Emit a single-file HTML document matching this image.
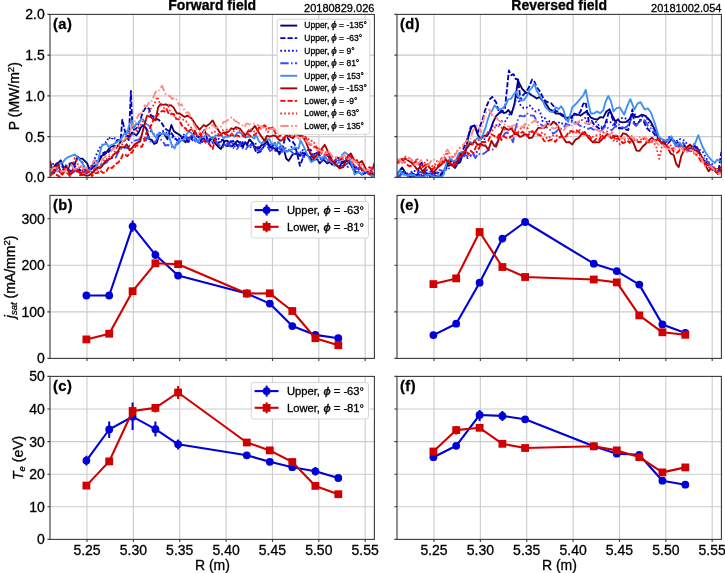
<!DOCTYPE html>
<html><head><meta charset="utf-8"><style>
html,body{margin:0;padding:0;background:#fff;}
svg{display:block;font-family:"Liberation Sans", sans-serif;will-change:transform;filter:blur(0.3px);}
text{fill:#000;stroke:#000;stroke-width:0.3px;}
</style></head><body>
<svg width="725" height="573" viewBox="0 0 725 573">
<rect width="725" height="573" fill="#fff"/>
<path d="M87.00 14.40V177.40M133.36 14.40V177.40M179.73 14.40V177.40M226.10 14.40V177.40M272.46 14.40V177.40M318.82 14.40V177.40M365.19 14.40V177.40M50.00 136.65H374.40M50.00 95.90H374.40M50.00 55.15H374.40" stroke="#cccccc" stroke-width="1.1" fill="none"/>
<path d="M434.00 14.40V177.40M480.36 14.40V177.40M526.73 14.40V177.40M573.10 14.40V177.40M619.46 14.40V177.40M665.83 14.40V177.40M712.19 14.40V177.40M397.00 136.65H721.40M397.00 95.90H721.40M397.00 55.15H721.40" stroke="#cccccc" stroke-width="1.1" fill="none"/>
<path d="M87.00 195.40V358.40M133.36 195.40V358.40M179.73 195.40V358.40M226.10 195.40V358.40M272.46 195.40V358.40M318.82 195.40V358.40M365.19 195.40V358.40M50.00 311.83H374.40M50.00 265.26H374.40M50.00 218.69H374.40" stroke="#cccccc" stroke-width="1.1" fill="none"/>
<path d="M434.00 195.40V358.40M480.36 195.40V358.40M526.73 195.40V358.40M573.10 195.40V358.40M619.46 195.40V358.40M665.83 195.40V358.40M712.19 195.40V358.40M397.00 311.83H721.40M397.00 265.26H721.40M397.00 218.69H721.40" stroke="#cccccc" stroke-width="1.1" fill="none"/>
<path d="M87.00 376.40V539.40M133.36 376.40V539.40M179.73 376.40V539.40M226.10 376.40V539.40M272.46 376.40V539.40M318.82 376.40V539.40M365.19 376.40V539.40M50.00 506.80H374.40M50.00 474.20H374.40M50.00 441.60H374.40M50.00 409.00H374.40" stroke="#cccccc" stroke-width="1.1" fill="none"/>
<path d="M434.00 376.40V539.40M480.36 376.40V539.40M526.73 376.40V539.40M573.10 376.40V539.40M619.46 376.40V539.40M665.83 376.40V539.40M712.19 376.40V539.40M397.00 506.80H721.40M397.00 474.20H721.40M397.00 441.60H721.40M397.00 409.00H721.40" stroke="#cccccc" stroke-width="1.1" fill="none"/>
<polyline points="86.4,295.5 109.2,295.5 132.6,226.3 155.4,254.8 178.1,275.6 246.8,293.5 269.8,303.6 292.3,326.1 315.4,334.9 338.3,338.2" fill="none" stroke="#0000d8" stroke-width="2.1" stroke-linejoin="round"/>
<path d="M132.6 220.6V231.8M155.4 250.5V259.0" stroke="#0000d8" stroke-width="2"/>
<circle cx="86.4" cy="295.5" r="3.9" fill="#0000d8"/>
<circle cx="109.2" cy="295.5" r="3.9" fill="#0000d8"/>
<circle cx="132.6" cy="226.3" r="3.9" fill="#0000d8"/>
<circle cx="155.4" cy="254.8" r="3.9" fill="#0000d8"/>
<circle cx="178.1" cy="275.6" r="3.9" fill="#0000d8"/>
<circle cx="246.8" cy="293.5" r="3.9" fill="#0000d8"/>
<circle cx="269.8" cy="303.6" r="3.9" fill="#0000d8"/>
<circle cx="292.3" cy="326.1" r="3.9" fill="#0000d8"/>
<circle cx="315.4" cy="334.9" r="3.9" fill="#0000d8"/>
<circle cx="338.3" cy="338.2" r="3.9" fill="#0000d8"/>
<polyline points="86.4,339.4 109.2,333.7 132.6,291.2 155.4,263.3 178.1,264.2 246.8,293.5 269.8,293.3 292.3,311.0 315.4,338.2 338.3,345.2" fill="none" stroke="#d00000" stroke-width="2.1" stroke-linejoin="round"/>
<rect x="82.5" y="335.5" width="7.8" height="7.8" fill="#d00000"/>
<rect x="105.3" y="329.8" width="7.8" height="7.8" fill="#d00000"/>
<rect x="128.7" y="287.3" width="7.8" height="7.8" fill="#d00000"/>
<rect x="151.5" y="259.4" width="7.8" height="7.8" fill="#d00000"/>
<rect x="174.2" y="260.3" width="7.8" height="7.8" fill="#d00000"/>
<rect x="242.9" y="289.6" width="7.8" height="7.8" fill="#d00000"/>
<rect x="265.9" y="289.4" width="7.8" height="7.8" fill="#d00000"/>
<rect x="288.4" y="307.1" width="7.8" height="7.8" fill="#d00000"/>
<rect x="311.5" y="334.3" width="7.8" height="7.8" fill="#d00000"/>
<rect x="334.4" y="341.3" width="7.8" height="7.8" fill="#d00000"/>
<polyline points="86.4,460.6 109.2,429.5 132.6,416.7 155.4,429.2 178.1,444.3 246.8,455.3 269.8,461.8 292.3,467.2 315.4,471.3 338.3,478.0" fill="none" stroke="#0000d8" stroke-width="2.1" stroke-linejoin="round"/>
<path d="M86.4 455.8V465.5M109.2 421.6V438.1M132.6 402.5V430.1M155.4 421.6V436.4M178.1 439.6V449.6M315.4 467.0V475.5" stroke="#0000d8" stroke-width="2"/>
<circle cx="86.4" cy="460.6" r="3.9" fill="#0000d8"/>
<circle cx="109.2" cy="429.5" r="3.9" fill="#0000d8"/>
<circle cx="132.6" cy="416.7" r="3.9" fill="#0000d8"/>
<circle cx="155.4" cy="429.2" r="3.9" fill="#0000d8"/>
<circle cx="178.1" cy="444.3" r="3.9" fill="#0000d8"/>
<circle cx="246.8" cy="455.3" r="3.9" fill="#0000d8"/>
<circle cx="269.8" cy="461.8" r="3.9" fill="#0000d8"/>
<circle cx="292.3" cy="467.2" r="3.9" fill="#0000d8"/>
<circle cx="315.4" cy="471.3" r="3.9" fill="#0000d8"/>
<circle cx="338.3" cy="478.0" r="3.9" fill="#0000d8"/>
<polyline points="86.4,485.6 109.2,461.4 132.6,411.0 155.4,407.9 178.1,392.5 246.8,442.5 269.8,450.4 292.3,462.0 315.4,485.9 338.3,494.2" fill="none" stroke="#d00000" stroke-width="2.1" stroke-linejoin="round"/>
<path d="M132.6 406.0V417.0M155.4 404.0V412.4M178.1 386.0V399.0" stroke="#d00000" stroke-width="2"/>
<rect x="82.5" y="481.7" width="7.8" height="7.8" fill="#d00000"/>
<rect x="105.3" y="457.5" width="7.8" height="7.8" fill="#d00000"/>
<rect x="128.7" y="407.1" width="7.8" height="7.8" fill="#d00000"/>
<rect x="151.5" y="404.0" width="7.8" height="7.8" fill="#d00000"/>
<rect x="174.2" y="388.6" width="7.8" height="7.8" fill="#d00000"/>
<rect x="242.9" y="438.6" width="7.8" height="7.8" fill="#d00000"/>
<rect x="265.9" y="446.5" width="7.8" height="7.8" fill="#d00000"/>
<rect x="288.4" y="458.1" width="7.8" height="7.8" fill="#d00000"/>
<rect x="311.5" y="482.0" width="7.8" height="7.8" fill="#d00000"/>
<rect x="334.4" y="490.3" width="7.8" height="7.8" fill="#d00000"/>
<polyline points="433.4,335.1 456.2,323.7 479.6,282.7 502.4,238.6 525.1,222.0 593.8,263.7 616.8,271.1 639.3,284.6 662.4,324.4 685.3,333.0" fill="none" stroke="#0000d8" stroke-width="2.1" stroke-linejoin="round"/>
<circle cx="433.4" cy="335.1" r="3.9" fill="#0000d8"/>
<circle cx="456.2" cy="323.7" r="3.9" fill="#0000d8"/>
<circle cx="479.6" cy="282.7" r="3.9" fill="#0000d8"/>
<circle cx="502.4" cy="238.6" r="3.9" fill="#0000d8"/>
<circle cx="525.1" cy="222.0" r="3.9" fill="#0000d8"/>
<circle cx="593.8" cy="263.7" r="3.9" fill="#0000d8"/>
<circle cx="616.8" cy="271.1" r="3.9" fill="#0000d8"/>
<circle cx="639.3" cy="284.6" r="3.9" fill="#0000d8"/>
<circle cx="662.4" cy="324.4" r="3.9" fill="#0000d8"/>
<circle cx="685.3" cy="333.0" r="3.9" fill="#0000d8"/>
<polyline points="433.4,284.1 456.2,278.4 479.6,232.0 502.4,267.0 525.1,277.0 593.8,279.5 616.8,282.4 639.3,315.4 662.4,332.3 685.3,334.8" fill="none" stroke="#d00000" stroke-width="2.1" stroke-linejoin="round"/>
<rect x="429.5" y="280.2" width="7.8" height="7.8" fill="#d00000"/>
<rect x="452.3" y="274.5" width="7.8" height="7.8" fill="#d00000"/>
<rect x="475.7" y="228.1" width="7.8" height="7.8" fill="#d00000"/>
<rect x="498.5" y="263.1" width="7.8" height="7.8" fill="#d00000"/>
<rect x="521.2" y="273.1" width="7.8" height="7.8" fill="#d00000"/>
<rect x="589.9" y="275.6" width="7.8" height="7.8" fill="#d00000"/>
<rect x="612.9" y="278.5" width="7.8" height="7.8" fill="#d00000"/>
<rect x="635.4" y="311.5" width="7.8" height="7.8" fill="#d00000"/>
<rect x="658.5" y="328.4" width="7.8" height="7.8" fill="#d00000"/>
<rect x="681.4" y="330.9" width="7.8" height="7.8" fill="#d00000"/>
<polyline points="433.4,457.2 456.2,445.8 479.6,415.0 502.4,415.9 525.1,419.3 593.8,446.3 616.8,453.7 639.3,454.8 662.4,480.7 685.3,484.7" fill="none" stroke="#0000d8" stroke-width="2.1" stroke-linejoin="round"/>
<path d="M479.6 410.0V421.0M502.4 411.0V421.0" stroke="#0000d8" stroke-width="2"/>
<circle cx="433.4" cy="457.2" r="3.9" fill="#0000d8"/>
<circle cx="456.2" cy="445.8" r="3.9" fill="#0000d8"/>
<circle cx="479.6" cy="415.0" r="3.9" fill="#0000d8"/>
<circle cx="502.4" cy="415.9" r="3.9" fill="#0000d8"/>
<circle cx="525.1" cy="419.3" r="3.9" fill="#0000d8"/>
<circle cx="593.8" cy="446.3" r="3.9" fill="#0000d8"/>
<circle cx="616.8" cy="453.7" r="3.9" fill="#0000d8"/>
<circle cx="639.3" cy="454.8" r="3.9" fill="#0000d8"/>
<circle cx="662.4" cy="480.7" r="3.9" fill="#0000d8"/>
<circle cx="685.3" cy="484.7" r="3.9" fill="#0000d8"/>
<polyline points="433.4,451.5 456.2,430.1 479.6,427.8 502.4,443.8 525.1,448.0 593.8,446.3 616.8,450.4 639.3,457.1 662.4,472.4 685.3,467.4" fill="none" stroke="#d00000" stroke-width="2.1" stroke-linejoin="round"/>
<path d="M456.2 426.0V434.5" stroke="#d00000" stroke-width="2"/>
<rect x="429.5" y="447.6" width="7.8" height="7.8" fill="#d00000"/>
<rect x="452.3" y="426.2" width="7.8" height="7.8" fill="#d00000"/>
<rect x="475.7" y="423.9" width="7.8" height="7.8" fill="#d00000"/>
<rect x="498.5" y="439.9" width="7.8" height="7.8" fill="#d00000"/>
<rect x="521.2" y="444.1" width="7.8" height="7.8" fill="#d00000"/>
<rect x="589.9" y="442.4" width="7.8" height="7.8" fill="#d00000"/>
<rect x="612.9" y="446.5" width="7.8" height="7.8" fill="#d00000"/>
<rect x="635.4" y="453.2" width="7.8" height="7.8" fill="#d00000"/>
<rect x="658.5" y="468.5" width="7.8" height="7.8" fill="#d00000"/>
<rect x="681.4" y="463.5" width="7.8" height="7.8" fill="#d00000"/>
<clipPath id="clp0"><rect x="50.0" y="14.4" width="324.4" height="163.0"/></clipPath>
<g clip-path="url(#clp0)" fill="none" stroke-width="1.85" stroke-linejoin="round">
<polyline points="50.0,171.0 52.8,169.0 55.5,164.8 58.3,162.8 60.7,160.3 62.1,163.4 63.8,169.0 65.5,166.2 67.9,169.0 70.0,164.1 72.1,162.8 74.1,164.8 76.2,160.7 77.6,156.6 79.7,158.6 82.4,158.6 85.2,161.4 87.2,163.4 88.6,167.6 91.4,169.0 94.1,166.2 96.9,164.8 100.0,159.2 102.2,155.4 104.5,154.7 106.7,152.0 108.9,148.8 111.2,146.5 113.4,145.8 116.3,147.3 118.5,145.0 120.8,141.4 123.0,141.4 125.2,139.9 127.4,135.8 129.7,136.9 131.9,132.5 134.1,134.0 136.3,135.3 138.6,132.5 140.8,127.4 143.0,125.1 146.0,128.0 149.4,139.2 151.8,140.0 154.2,143.9 156.6,142.9 158.9,136.0 161.2,134.3 163.6,132.9 167.5,139.2 171.4,125.0 173.8,131.0 176.2,132.9 178.6,134.3 180.9,136.0 183.2,140.0 185.6,142.3 187.9,137.9 190.3,137.6 192.7,135.3 195.0,131.3 197.3,136.7 199.7,137.6 202.1,133.8 204.5,129.7 207.6,140.7 209.9,140.6 212.3,137.6 214.7,142.6 217.0,145.5 220.9,149.0 225.0,140.8 227.7,140.9 230.4,146.3 232.7,146.0 234.9,143.2 237.2,140.8 239.9,143.0 242.7,147.6 245.0,142.1 247.2,144.4 249.5,139.5 251.8,142.0 254.0,146.2 256.3,147.6 259.0,148.5 261.7,144.9 264.4,144.1 267.1,140.8 269.9,146.7 272.6,147.6 275.3,149.0 278.0,151.7 280.8,151.5 283.5,147.6 286.2,158.5 288.7,160.9 292.4,154.7 294.9,153.8 297.4,153.5 299.9,155.8 302.4,152.9 306.1,154.7 309.8,157.2 312.3,160.7 314.8,159.7 317.2,159.1 319.7,163.4 323.5,159.7 327.2,163.4 329.6,161.9 332.1,164.7 334.6,163.6 337.1,165.9 339.6,166.8 342.1,162.2 344.6,161.2 347.0,160.9 350.8,164.7 353.2,169.2 355.7,172.1 358.8,172.2 361.9,174.6 364.4,173.4 366.9,172.1 369.4,173.3 371.8,175.8 374.4,174.0" stroke="#000070"/>
<polyline points="50.0,174.0 52.5,172.4 55.0,170.0 57.5,170.6 60.0,172.0 62.5,170.5 65.0,168.0 67.5,167.7 70.0,171.0 72.5,170.4 75.0,166.0 77.5,169.9 80.0,170.0 82.5,171.9 85.0,172.0 87.5,168.0 90.0,168.0 92.5,165.1 95.0,162.0 97.5,159.0 100.0,158.0 102.5,153.5 105.0,152.0 107.5,153.7 110.0,150.0 112.4,150.9 114.8,145.8 117.0,140.1 119.3,139.9 120.8,138.4 122.3,119.6 124.5,129.5 126.7,136.9 128.8,140.0 130.9,91.0 132.5,130.0 134.1,129.5 136.3,128.7 138.6,123.6 140.8,118.3 143.0,111.7 146.0,107.3 149.0,108.7 151.0,115.6 153.3,116.4 155.7,118.7 158.8,119.8 162.0,123.5 164.3,127.6 166.7,129.7 169.1,131.0 171.4,132.9 174.6,137.9 177.7,140.7 180.3,139.8 183.0,137.0 185.5,137.3 188.0,142.0 190.5,140.6 193.0,136.0 195.5,141.4 198.0,141.0 200.5,141.8 203.0,137.0 205.5,140.7 208.0,143.0 210.5,138.3 213.0,139.0 215.5,138.5 218.0,144.0 220.5,139.8 223.0,140.0 225.5,145.6 228.0,146.0 230.5,142.3 233.0,141.0 235.5,143.2 238.0,147.0 240.5,146.9 243.0,142.0 245.5,142.9 248.0,146.0 250.5,144.8 253.0,143.0 256.3,153.1 260.3,151.7 262.6,148.0 265.0,145.0 267.5,143.9 270.0,148.0 272.5,146.0 275.0,143.0 279.4,154.4 282.2,148.6 285.0,138.6 287.5,137.8 290.0,141.1 292.4,141.3 294.9,144.8 297.4,154.8 299.9,165.9 303.6,156.0 308.0,150.0 310.5,149.7 313.0,155.0 315.5,153.5 318.0,152.0 320.5,156.9 323.0,158.0 325.5,157.9 328.0,156.0 330.5,159.2 333.0,162.0 335.5,162.1 338.0,158.0 340.5,158.4 343.0,163.0 345.5,161.9 348.0,160.0 350.5,162.2 353.0,166.0 355.5,167.6 358.0,168.0 360.5,167.7 363.0,172.0 365.5,172.7 368.0,170.0 371.2,170.6 374.4,176.0" stroke="#0000c0" stroke-dasharray="5.2,2"/>
<polyline points="50.0,167.6 52.8,164.1 55.5,162.8 57.6,164.8 60.3,167.6 63.8,166.2 67.2,164.8 70.0,163.4 72.8,166.2 75.5,163.4 77.6,156.6 79.7,160.0 82.4,162.1 85.2,170.3 87.2,174.5 90.0,169.7 92.1,166.2 94.1,160.0 96.2,155.2 98.3,150.3 100.0,147.3 102.2,145.2 104.5,142.9 106.7,141.9 108.9,136.9 111.2,139.8 113.4,136.9 116.3,139.9 119.3,141.4 121.5,137.1 123.7,135.4 125.9,134.2 128.2,129.5 130.4,133.1 132.6,134.0 134.8,135.0 137.1,134.0 139.3,127.8 141.5,126.5 143.9,125.1 146.3,129.7 149.2,130.1 152.0,132.0 155.0,135.1 158.0,135.0 161.0,131.4 164.0,131.0 166.5,132.7 168.9,133.2 171.4,136.0 174.2,139.2 177.0,138.0 180.0,138.8 183.0,134.0 186.0,136.4 189.0,140.0 192.0,141.2 195.0,136.0 198.0,136.2 201.0,142.0 204.0,142.0 207.0,138.0 210.0,142.9 213.0,143.0 216.0,138.8 219.0,139.0 222.0,143.3 225.0,145.0 228.0,143.4 231.0,141.0 234.0,146.4 237.0,146.0 240.0,142.1 243.0,142.0 246.0,144.8 249.0,147.0 252.0,147.4 255.0,143.0 258.0,146.9 261.0,149.0 264.0,145.3 267.0,144.0 270.0,144.3 273.0,150.0 276.0,150.8 279.0,146.0 282.0,147.8 285.0,150.0 288.0,151.7 291.0,147.0 294.0,147.7 297.0,153.0 300.0,153.5 303.0,150.0 306.0,155.0 309.0,156.0 312.0,157.2 315.0,153.0 318.0,152.9 321.0,159.0 324.0,156.7 327.0,156.0 330.0,156.1 333.0,162.0 336.0,162.6 339.0,160.0 342.0,161.6 345.0,165.0 348.0,166.9 351.0,163.0 354.0,164.7 357.0,168.0 360.0,170.8 363.0,170.0 366.0,173.9 369.0,173.0 371.7,172.3 374.4,175.0" stroke="#1010ff" stroke-dasharray="1.7,2.2"/>
<polyline points="50.0,172.0 53.0,171.4 56.0,168.0 59.0,172.7 62.0,173.0 65.0,169.0 68.0,169.0 71.0,173.7 74.0,172.0 77.0,168.0 80.0,168.0 83.0,171.6 86.0,173.0 89.0,168.9 92.0,170.0 94.7,170.0 97.3,164.5 100.0,165.1 102.2,164.9 104.5,163.6 106.7,162.4 108.9,159.2 111.1,157.3 113.3,158.5 115.6,157.8 117.8,153.2 120.3,148.8 122.7,149.4 125.2,147.3 127.7,148.3 130.1,144.9 132.6,141.4 135.6,140.3 138.6,139.9 140.8,137.5 143.1,137.6 145.5,141.3 147.8,136.5 150.2,141.6 152.6,140.7 155.2,142.4 157.8,137.5 160.4,139.2 162.8,141.2 165.2,145.5 168.3,145.0 171.4,147.0 174.6,145.7 177.7,143.9 180.3,140.9 183.0,142.2 185.6,137.6 188.8,138.8 191.9,134.5 195.1,137.2 198.2,142.3 201.1,143.7 204.0,140.0 207.0,139.7 210.0,145.0 213.0,140.4 216.0,141.0 219.0,145.1 222.0,147.0 225.0,146.9 228.0,143.0 231.0,147.5 234.0,148.0 237.0,149.1 240.0,144.0 243.0,148.8 246.0,149.0 249.0,145.5 252.0,145.0 255.0,149.1 258.0,150.0 261.0,150.7 264.0,146.0 267.0,145.9 270.0,151.0 273.0,149.0 276.0,147.0 279.0,147.3 282.0,152.0 285.0,148.2 288.0,149.0 291.0,151.4 294.0,154.0 297.0,153.6 300.0,151.0 303.0,157.0 306.0,157.0 309.0,153.1 312.0,154.0 315.0,157.0 318.0,160.0 321.0,161.7 324.0,157.0 327.0,161.7 330.0,163.0 333.0,161.7 336.0,160.0 339.0,161.4 342.0,166.0 345.0,165.3 348.0,163.0 351.0,164.5 354.0,169.0 357.0,168.9 360.0,167.0 363.0,170.5 366.0,172.0 368.8,172.0 371.6,175.2 374.4,174.0" stroke="#3a48ff" stroke-dasharray="8.4,2.3,1.6,2.3"/>
<polyline points="50.0,174.5 53.4,173.1 57.0,170.0 60.3,163.4 63.1,162.1 65.2,159.3 67.9,157.2 71.4,155.9 74.8,154.5 76.2,155.9 79.0,158.6 82.4,163.4 85.2,167.6 88.6,170.3 92.8,172.4 95.5,169.0 98.3,160.0 100.0,152.0 102.2,145.2 104.5,144.3 106.7,143.5 108.9,147.3 111.2,145.2 113.4,144.3 117.8,141.4 120.0,140.3 122.3,136.9 124.5,133.3 126.7,134.0 129.7,123.6 131.9,120.6 134.1,128.0 136.3,123.5 138.6,123.6 140.8,119.7 143.0,119.1 145.4,123.6 147.9,125.0 150.2,126.8 152.6,132.9 155.7,137.6 158.9,132.9 161.2,134.3 163.6,132.9 165.9,134.7 168.3,134.5 171.4,143.9 174.6,148.6 176.9,142.5 179.3,140.7 181.7,140.2 184.0,139.2 186.3,134.9 188.7,131.3 191.1,133.1 193.5,136.0 195.8,141.3 198.2,140.7 201.1,136.4 204.0,137.0 207.0,134.0 210.0,136.7 212.7,138.9 215.5,135.3 218.2,135.4 220.9,134.9 223.6,138.1 226.3,136.4 229.0,136.7 231.7,134.6 234.5,136.8 237.2,132.7 239.5,132.3 241.7,133.7 244.0,136.7 246.8,137.2 249.5,136.7 251.8,136.6 254.0,138.6 256.3,135.4 259.0,141.5 261.7,143.5 264.4,140.6 267.1,139.5 269.4,139.1 271.6,144.2 273.9,143.5 276.2,146.9 278.4,141.6 280.7,144.9 283.0,148.6 285.3,151.6 287.6,151.7 290.0,149.8 292.4,149.5 294.9,147.3 298.6,148.5 300.5,140.5 303.6,146.1 307.3,154.7 311.1,162.2 314.8,159.7 317.2,156.8 319.7,157.2 322.2,158.4 324.7,156.0 327.2,159.8 329.7,160.9 332.1,161.6 334.6,165.9 337.1,164.2 339.6,160.9 342.1,154.9 344.6,152.3 348.3,154.7 352.0,164.7 354.5,174.6 358.2,172.1 361.9,174.6 364.4,170.0 366.9,170.9 369.4,172.7 371.8,176.5 374.4,175.0" stroke="#3d8ff5"/>
<polyline points="50.0,160.7 52.1,169.0 54.1,173.1 56.2,166.2 58.3,164.8 60.3,171.0 62.4,174.5 64.5,171.7 66.6,167.6 68.6,171.7 70.7,174.5 72.8,169.7 74.8,168.3 76.9,171.7 79.0,170.3 81.0,175.2 83.8,174.5 86.6,175.9 89.3,175.2 92.1,173.1 94.8,170.3 97.6,167.6 100.0,168.1 102.2,166.0 104.5,162.2 106.7,160.3 108.9,159.2 111.2,158.3 113.4,154.7 117.8,151.8 120.0,146.9 122.3,147.3 124.5,147.0 126.7,144.3 129.7,150.3 132.6,147.3 134.8,144.3 137.1,142.9 140.1,141.4 143.1,129.7 147.1,115.6 151.0,117.2 153.3,119.4 155.7,120.3 158.1,107.4 160.6,104.1 163.2,104.8 165.8,104.3 168.4,105.6 170.9,105.1 173.5,107.4 176.9,113.4 179.7,113.5 182.5,115.6 184.8,117.0 187.2,115.6 189.6,117.0 191.9,118.7 195.8,125.0 199.7,129.7 203.7,125.0 206.0,126.6 210.0,123.5 212.7,120.4 215.4,125.9 218.2,129.9 220.9,134.1 223.6,132.7 226.3,132.5 229.0,131.3 231.3,128.3 233.6,129.2 235.9,127.2 239.9,128.6 242.7,132.2 245.4,135.4 248.1,131.2 250.8,131.3 254.9,125.9 259.0,132.7 261.7,136.9 264.4,140.8 267.1,135.8 269.9,136.7 273.9,135.4 276.2,136.4 278.4,139.2 280.7,140.8 283.4,139.2 286.2,135.4 290.0,136.7 293.0,138.1 296.0,134.0 299.2,135.7 302.4,136.1 306.1,142.3 309.8,152.3 313.5,158.5 317.3,154.7 321.0,149.8 324.7,144.8 328.4,152.3 332.1,160.9 335.9,164.7 339.6,168.4 343.3,167.1 347.0,157.2 350.8,153.5 354.5,160.9 358.2,163.4 361.9,160.9 365.6,168.4 369.4,174.6 371.8,172.1 374.4,163.0" stroke="#ac0000"/>
<polyline points="50.0,176.0 52.5,173.4 55.0,174.0 57.5,175.4 60.0,177.0 62.5,172.0 65.0,173.0 67.5,173.3 70.0,176.0 72.5,170.9 75.0,172.0 77.5,170.0 80.0,175.0 83.0,171.4 85.9,171.0 87.6,172.4 89.8,171.4 92.0,176.0 94.8,173.2 97.6,173.1 100.0,170.3 103.0,172.9 106.0,172.0 109.0,166.7 111.9,168.1 116.3,163.6 118.5,162.3 120.8,159.2 123.0,154.3 125.2,154.7 127.4,156.1 129.7,153.2 131.9,152.7 134.1,148.8 136.3,145.2 138.6,145.8 141.6,147.0 143.9,142.5 146.3,132.9 149.4,129.0 152.6,121.9 154.9,115.7 157.3,115.6 159.7,112.6 162.0,110.9 164.3,111.5 166.7,109.3 169.1,114.7 171.4,114.0 173.8,114.0 176.2,118.7 178.6,119.3 180.9,123.5 183.2,127.8 185.6,128.2 187.9,132.3 190.3,129.7 193.4,129.2 196.6,134.5 199.8,133.9 202.9,139.2 206.1,143.4 209.2,143.9 212.7,149.0 215.4,138.1 218.2,135.4 220.9,135.4 223.6,133.9 226.3,134.0 229.1,136.7 231.8,134.0 234.5,136.5 237.2,135.4 239.9,136.6 242.7,135.4 245.4,137.3 248.1,134.0 250.8,136.4 253.5,135.4 256.2,133.5 259.0,127.2 261.7,127.2 264.4,125.2 267.1,127.6 269.9,128.6 272.6,127.5 275.3,132.7 278.0,137.0 280.7,135.4 283.4,138.4 286.2,135.4 288.7,134.7 291.2,136.1 294.1,137.0 297.0,132.6 299.9,136.1 302.4,136.1 304.9,136.1 307.4,141.3 309.8,144.8 312.3,144.6 314.8,147.3 317.2,147.9 319.7,149.8 322.2,154.7 324.7,154.7 327.2,154.6 329.7,159.7 332.1,160.0 334.6,160.9 337.1,157.3 339.6,159.7 342.1,157.6 344.6,157.2 347.1,158.7 349.5,154.7 352.0,158.6 354.5,160.9 356.9,160.0 359.4,165.9 361.9,170.3 364.4,169.6 366.9,169.5 369.4,167.1 371.9,168.5 374.4,169.6" stroke="#ff0000" stroke-dasharray="5.2,2"/>
<polyline points="50.0,170.0 52.5,172.1 55.0,167.0 57.5,166.1 60.0,172.0 62.5,171.7 65.0,168.0 67.5,166.9 70.0,166.0 72.4,165.3 74.8,157.9 76.2,160.7 77.6,164.1 79.8,165.3 82.0,168.0 85.0,172.7 88.0,171.0 91.0,166.9 94.0,168.0 97.0,170.3 100.0,165.1 102.5,162.5 104.9,158.8 107.4,159.2 109.9,155.6 112.3,155.3 114.8,151.8 117.3,145.8 119.8,145.9 122.3,144.3 124.8,138.6 127.2,137.1 129.7,138.4 132.6,132.9 135.6,132.5 137.8,127.5 140.1,126.5 142.3,121.8 144.5,120.6 146.9,117.9 149.4,110.9 151.8,107.1 154.2,104.6 157.3,96.7 160.4,104.9 163.6,107.7 165.9,110.0 168.3,106.2 170.7,113.1 173.0,114.0 176.2,119.0 179.3,117.2 182.4,119.3 185.6,120.3 188.8,125.6 191.9,128.2 194.2,135.0 196.6,136.0 199.3,134.3 202.0,132.0 205.0,131.3 208.0,136.0 211.0,133.7 214.0,131.0 217.0,133.2 220.0,135.0 223.0,130.1 226.0,130.0 229.0,128.9 232.0,134.0 235.0,129.1 238.0,129.0 241.0,132.5 244.0,133.0 247.0,132.9 250.0,128.0 253.0,131.2 256.0,132.0 259.0,129.4 262.0,128.0 265.0,126.4 268.0,132.0 271.0,126.7 274.0,129.0 277.0,132.7 280.0,134.0 283.0,132.7 286.0,131.0 289.0,133.2 292.0,136.0 295.0,132.5 298.0,134.0 301.0,133.1 304.0,138.0 307.0,137.1 310.0,141.0 313.0,140.7 316.0,146.0 319.0,148.8 322.0,150.0 325.0,151.0 328.0,155.0 331.0,156.4 334.0,157.0 337.0,158.0 340.0,160.0 343.0,159.4 346.0,158.0 349.0,161.9 352.0,162.0 355.0,165.6 358.0,165.0 361.0,163.8 364.0,168.0 367.0,173.5 370.0,172.0 374.4,173.0" stroke="#ff2a2a" stroke-dasharray="1.7,2.2"/>
<polyline points="50.0,172.0 53.0,168.1 56.0,168.0 59.0,172.4 62.0,171.0 65.0,171.5 68.0,166.0 71.0,164.3 74.0,169.0 77.0,169.4 80.0,165.0 83.0,168.0 86.0,168.0 89.0,167.2 92.0,164.0 94.7,160.1 97.3,165.0 100.0,162.2 103.0,158.4 105.9,156.2 108.9,155.3 111.9,150.3 114.8,147.5 117.8,144.3 120.8,143.9 123.7,139.9 126.7,137.8 129.7,132.5 131.9,126.2 134.1,122.1 136.3,119.6 138.6,114.7 141.6,113.2 144.7,105.4 147.1,106.1 149.4,101.4 151.8,101.1 154.2,95.2 156.6,90.1 158.9,90.4 162.0,85.7 165.2,93.6 167.6,95.7 169.9,95.9 172.2,99.1 174.6,97.5 176.9,100.1 179.3,105.4 181.7,104.3 184.0,109.3 186.3,112.6 188.7,112.5 191.9,120.3 195.0,126.6 197.3,130.2 199.7,132.9 202.3,134.6 205.0,130.0 207.5,127.3 210.0,128.0 212.7,124.9 215.5,128.0 218.2,127.2 220.9,126.8 223.6,121.8 226.3,121.4 229.0,119.0 231.8,117.0 234.5,120.4 238.6,123.1 241.3,124.1 244.0,127.2 246.8,123.3 249.5,124.5 252.2,123.5 254.9,123.8 259.0,125.9 263.1,127.2 265.8,130.4 268.5,129.9 271.2,128.9 273.9,128.6 278.0,132.7 281.0,133.6 284.0,134.0 287.0,133.1 290.0,136.0 293.0,135.6 296.0,135.0 299.0,139.3 302.0,137.0 305.0,139.3 308.0,143.0 311.0,144.2 314.0,148.0 317.0,150.3 320.0,150.0 323.0,154.1 326.0,153.0 329.0,151.5 332.0,156.0 335.0,157.9 338.0,158.0 341.0,157.2 344.0,155.0 347.0,157.2 350.0,158.0 353.0,160.1 356.0,162.0 359.0,165.2 362.0,166.0 365.0,170.4 368.0,170.0 371.2,169.3 374.4,172.0" stroke="#ff8a8a" stroke-dasharray="8.4,2.3,1.6,2.3"/>
</g>
<clipPath id="clp1"><rect x="397.0" y="14.4" width="324.4" height="163.0"/></clipPath>
<g clip-path="url(#clp1)" fill="none" stroke-width="1.85" stroke-linejoin="round">
<polyline points="397.0,174.7 399.0,171.6 402.1,167.6 404.1,170.6 407.1,175.2 409.6,177.6 412.2,175.2 415.1,176.8 418.0,174.0 421.0,176.4 424.0,176.0 427.0,173.4 430.0,174.0 433.0,174.0 436.0,176.0 438.8,176.6 441.5,174.7 445.6,168.6 448.6,162.5 451.7,160.5 454.7,162.5 457.7,163.7 460.3,162.0 462.8,153.7 465.4,153.0 468.4,136.1 471.5,126.9 474.6,125.3 477.6,134.5 480.7,139.2 483.8,135.7 486.9,136.1 489.9,131.6 493.0,122.3 496.1,116.1 499.2,113.0 501.5,110.7 503.8,113.0 506.1,112.4 508.4,110.0 511.4,114.6 514.5,103.8 518.0,80.6 522.2,88.9 526.3,93.0 528.8,93.0 531.2,95.0 533.9,96.5 536.7,98.5 539.4,97.0 542.5,100.6 545.6,103.2 549.7,109.4 552.8,110.8 555.9,113.5 559.0,113.5 562.0,115.6 565.1,117.3 568.2,117.6 571.3,116.8 574.4,114.5 577.5,114.5 580.6,115.6 583.7,113.3 586.7,111.4 590.8,117.6 593.9,118.9 597.0,119.7 600.1,117.2 603.2,117.6 606.3,111.6 609.4,109.4 612.5,116.0 615.5,121.7 617.8,119.4 620.0,121.8 623.1,122.4 626.2,121.8 629.3,119.5 632.4,113.6 635.5,117.1 638.5,116.7 641.6,114.7 644.7,115.6 647.8,118.2 650.9,121.8 655.0,130.1 659.2,140.4 662.2,143.9 665.3,142.4 668.4,139.4 671.5,138.3 674.6,143.3 677.7,142.4 681.8,146.5 684.9,146.8 688.0,150.7 691.1,150.6 694.2,146.5 697.3,147.9 700.4,154.8 703.5,159.9 706.5,163.0 709.6,166.9 712.7,167.1 715.3,169.5 717.9,171.3 721.4,169.2" stroke="#000070"/>
<polyline points="397.0,176.0 399.5,176.0 402.0,172.0 404.5,172.3 407.0,176.0 409.5,177.2 412.0,173.0 414.5,174.5 417.0,176.0 421.3,161.5 425.0,172.0 427.5,173.4 430.0,176.0 432.5,175.2 435.0,173.0 437.5,172.5 440.0,176.0 442.5,171.2 445.0,170.0 447.5,167.0 450.0,165.0 452.5,164.9 455.0,168.0 457.5,164.0 460.0,158.0 462.5,151.0 465.0,145.0 468.4,136.1 470.7,126.9 474.6,125.3 477.6,133.0 480.0,126.2 482.3,120.7 484.6,111.7 486.9,105.4 489.5,99.5 492.2,96.9 496.1,102.3 499.2,113.0 502.1,111.8 505.0,108.0 508.9,70.4 511.2,75.1 513.5,74.1 515.8,79.0 518.1,79.5 520.5,100.0 523.2,94.9 526.0,92.0 529.0,87.3 532.1,79.5 534.4,81.6 536.7,87.3 539.0,90.0 541.3,94.2 543.7,99.3 546.2,101.4 548.6,102.7 551.0,103.2 553.5,106.0 555.9,111.3 557.9,111.4 560.7,113.9 563.4,115.2 566.2,119.7 568.9,116.1 571.7,118.3 574.4,113.5 577.5,115.1 580.6,111.4 583.2,103.9 585.7,102.2 588.8,121.7 591.9,120.9 595.0,125.8 597.7,127.3 600.5,129.9 603.2,127.9 606.3,121.0 609.4,109.4 612.5,118.8 615.5,125.8 617.8,128.3 620.0,128.0 622.7,128.6 625.5,129.3 628.2,130.1 632.4,109.5 634.4,124.0 637.5,124.0 640.6,119.8 643.7,121.5 646.8,128.0 649.9,131.1 653.0,132.1 656.1,136.5 659.2,138.3 662.1,139.1 665.0,144.0 668.0,143.6 671.0,140.0 674.0,141.0 677.0,146.0 680.0,147.3 683.0,143.0 686.0,147.6 689.0,149.0 692.0,147.2 695.0,146.0 698.0,151.5 701.0,156.0 704.0,162.8 707.0,164.0 710.0,166.2 713.0,170.0 715.5,170.2 718.0,174.0 721.4,152.0" stroke="#0000c0" stroke-dasharray="5.2,2"/>
<polyline points="397.0,176.0 400.0,175.4 403.0,172.0 406.0,172.0 409.0,176.0 412.0,170.9 415.0,171.0 418.0,172.1 421.0,175.0 424.0,174.2 427.0,170.0 430.0,171.2 433.0,175.0 436.0,176.0 439.0,172.0 442.0,170.7 445.0,168.0 448.0,165.6 451.0,163.0 454.0,162.2 457.0,160.0 460.0,158.4 463.0,156.0 465.3,156.1 467.7,158.0 470.0,156.0 472.5,155.7 475.1,153.0 477.6,151.4 480.7,142.9 483.8,140.7 486.9,133.5 490.0,130.0 493.1,125.3 496.1,125.3 499.1,125.4 502.2,120.7 505.3,121.3 508.4,116.1 510.7,112.3 513.0,110.0 516.9,95.4 520.5,105.2 523.5,108.0 526.6,107.6 529.7,105.4 532.7,108.8 535.8,111.6 538.8,110.0 541.3,115.0 542.5,121.0 544.9,118.2 547.3,123.1 549.7,121.0 552.4,122.1 555.2,123.9 557.9,121.7 560.7,124.1 563.4,122.8 566.2,123.8 568.9,120.5 571.7,120.4 574.4,121.7 577.1,123.3 579.9,121.4 582.6,119.7 585.3,117.9 588.1,124.2 590.8,123.8 593.6,121.8 596.3,122.0 599.1,125.8 601.8,127.0 604.6,125.7 607.3,121.7 610.0,121.5 612.8,125.0 615.5,123.8 618.8,119.1 622.0,118.0 625.0,117.9 628.0,122.0 631.0,119.8 634.0,114.0 637.0,115.6 640.0,120.0 643.0,115.3 646.0,116.0 649.0,123.4 652.0,126.0 655.0,131.1 658.0,136.0 661.0,139.7 664.0,140.0 667.0,140.3 670.0,136.0 673.0,140.0 676.0,142.0 679.0,138.6 682.0,140.0 685.0,140.9 688.0,146.0 691.0,147.3 694.0,144.0 697.0,147.1 700.0,150.0 703.0,152.1 706.0,158.0 709.0,162.6 712.0,164.0 715.0,169.4 718.0,170.0 721.4,172.0" stroke="#1010ff" stroke-dasharray="1.7,2.2"/>
<polyline points="397.0,175.0 399.7,176.6 402.3,171.2 405.0,172.0 407.7,175.3 410.3,173.4 413.0,176.0 415.7,176.2 418.3,172.4 421.0,172.0 423.7,174.0 426.3,175.4 429.0,176.0 431.7,171.8 434.3,175.3 437.0,173.0 439.7,169.8 442.3,171.0 445.0,170.0 447.7,170.1 450.3,166.9 453.0,164.0 455.4,163.8 457.7,159.1 460.0,158.6 462.4,156.9 464.9,154.6 467.5,156.2 470.0,156.0 472.7,153.3 475.4,158.0 478.0,153.5 480.7,154.5 483.0,154.0 485.4,152.4 487.7,150.6 490.0,149.9 493.1,149.4 496.1,143.8 498.4,140.8 500.7,136.1 503.0,136.3 505.3,133.0 507.6,132.5 509.9,136.1 513.0,142.2 515.3,129.3 517.6,120.7 519.9,115.6 522.2,116.1 524.5,116.4 526.8,113.0 529.0,114.9 531.2,115.6 533.9,115.7 536.7,120.8 539.4,123.8 542.1,125.3 544.9,126.4 547.6,127.9 550.4,130.1 553.1,133.6 555.9,132.0 558.5,129.1 561.0,128.8 563.6,127.5 566.2,123.8 568.9,125.2 571.7,121.9 574.4,121.7 577.1,123.3 579.9,125.9 582.6,125.8 585.3,127.5 588.1,128.9 590.8,127.9 593.6,129.7 596.3,128.9 599.1,132.0 601.4,130.7 603.7,128.1 606.0,126.0 609.0,129.2 612.0,130.0 615.0,126.7 618.0,124.0 621.0,126.5 624.0,128.0 627.0,126.6 630.0,122.0 633.0,122.7 636.0,126.0 639.0,122.2 642.0,120.0 645.0,120.4 648.0,126.0 651.0,128.5 654.0,132.0 657.0,133.0 660.0,138.0 663.0,140.7 666.0,142.0 669.0,138.9 672.0,140.0 675.0,142.0 678.0,146.0 681.0,144.5 684.0,144.0 687.0,149.8 690.0,150.0 693.0,147.7 696.0,148.0 699.0,152.1 702.0,156.0 705.0,159.6 708.0,162.0 711.0,166.2 714.0,168.0 716.5,172.1 718.9,171.2 721.4,172.0" stroke="#3a48ff" stroke-dasharray="8.4,2.3,1.6,2.3"/>
<polyline points="397.0,175.7 400.0,170.6 403.1,174.7 405.6,174.8 408.0,176.0 411.0,174.9 414.0,175.0 417.0,177.6 420.0,176.0 423.0,177.6 426.0,175.0 429.0,174.3 432.0,176.0 435.0,177.6 438.0,175.0 440.8,177.6 443.6,174.7 446.6,162.5 450.6,158.5 453.3,161.3 456.0,160.0 459.0,153.1 462.0,152.0 465.0,151.4 468.0,145.0 470.2,142.1 472.5,143.9 474.7,140.7 477.7,138.0 480.7,139.2 483.0,134.3 485.3,128.4 487.6,120.1 490.0,113.0 492.2,110.3 494.5,105.4 497.6,108.9 500.7,109.2 503.3,107.9 505.8,104.5 508.4,99.2 510.9,98.9 513.5,94.8 516.0,91.5 518.4,96.3 520.7,100.8 523.8,100.1 526.8,96.1 529.1,90.9 531.7,88.0 534.3,83.7 536.8,91.1 539.4,95.0 542.5,100.4 545.6,107.3 549.7,111.4 552.8,112.1 555.9,107.3 558.5,109.1 561.0,106.3 563.4,109.6 565.8,118.3 568.2,121.7 572.3,107.3 575.4,104.5 578.5,101.2 580.9,98.0 583.3,95.4 585.7,89.8 588.2,102.7 590.8,113.5 593.9,113.5 597.0,111.4 600.1,113.2 603.2,110.4 605.8,101.1 608.3,96.0 610.9,101.1 613.5,111.4 616.6,108.1 619.7,107.3 624.1,114.6 627.2,106.1 630.3,99.2 634.4,109.5 637.5,103.6 640.6,102.2 644.7,109.5 647.8,108.3 650.9,112.5 655.0,123.9 659.2,138.3 662.2,139.2 665.3,140.4 668.4,140.5 671.5,136.2 675.6,146.5 679.8,142.4 682.8,147.2 685.9,148.6 689.0,147.3 692.1,146.5 695.2,143.1 698.3,135.2 702.4,146.5 705.5,152.2 708.6,156.8 711.7,160.4 714.8,163.0 717.0,159.7 719.2,160.6 721.4,161.0" stroke="#3d8ff5"/>
<polyline points="397.0,160.5 401.0,159.5 405.1,158.5 408.1,160.5 411.2,162.5 414.2,165.5 417.2,169.6 420.3,167.6 423.3,172.6 427.4,164.5 430.4,168.6 433.4,172.6 437.5,167.6 441.5,164.5 445.6,159.5 448.6,162.5 450.0,163.1 454.1,167.2 458.0,160.0 460.5,153.6 462.9,154.4 465.4,149.9 467.7,147.1 470.0,143.8 472.3,144.6 474.6,140.7 477.6,144.9 480.7,143.8 483.0,145.5 485.3,145.3 488.4,149.9 491.5,140.7 493.8,145.2 496.1,146.8 499.2,137.6 501.5,132.5 503.8,126.9 506.1,128.6 508.4,130.0 511.4,128.4 514.5,133.8 517.6,134.5 519.9,136.9 522.2,136.1 524.5,134.4 526.8,134.5 529.1,138.2 532.2,137.6 535.3,132.0 538.4,127.8 541.5,127.9 544.5,127.8 547.6,123.8 550.7,124.9 553.8,121.7 557.9,125.8 562.0,136.1 566.2,142.3 569.2,142.0 572.3,144.4 575.4,139.7 578.5,138.2 581.6,133.9 584.7,132.0 588.8,138.2 592.9,142.3 596.0,142.2 599.1,142.3 603.2,138.2 607.3,134.1 611.4,138.2 614.5,136.0 617.6,136.1 620.0,138.3 623.1,133.3 626.2,134.2 630.3,138.3 633.4,142.6 636.5,150.7 639.6,150.8 642.7,146.5 645.8,143.7 648.8,140.4 651.9,137.8 655.0,140.4 658.1,139.1 661.2,142.4 664.3,143.0 667.4,146.5 670.5,153.4 673.6,154.8 676.2,163.9 678.7,167.1 681.3,155.9 683.9,150.7 687.0,147.3 690.1,144.5 693.2,149.3 696.2,150.7 699.3,152.1 702.4,158.9 705.5,165.6 708.6,171.3 711.7,167.6 714.8,169.2 717.0,169.3 719.2,168.3 721.4,167.1" stroke="#ac0000"/>
<polyline points="397.0,163.5 400.0,159.1 403.0,160.0 406.0,163.9 409.0,166.0 412.0,166.0 415.0,162.0 418.0,161.9 421.0,168.0 424.0,166.0 427.0,163.0 430.0,168.9 433.0,169.0 436.0,165.9 439.0,165.0 441.2,159.5 443.4,164.1 445.6,158.5 448.8,161.1 452.0,165.0 455.0,163.6 458.0,158.0 461.0,156.5 464.0,152.0 466.2,151.0 468.4,154.6 470.6,150.7 473.4,153.2 476.1,146.3 478.9,148.7 481.9,142.0 485.0,142.0 488.1,141.1 491.2,134.2 494.1,135.7 497.0,138.0 499.2,134.1 501.4,140.1 503.6,136.3 506.4,137.9 509.1,138.3 511.9,136.3 515.0,132.4 518.0,133.0 520.3,133.9 522.7,131.7 525.0,134.1 527.7,136.2 530.5,131.9 533.2,132.0 536.0,134.4 538.7,134.4 541.5,136.1 544.2,141.1 547.0,141.6 549.7,140.2 552.4,139.5 555.2,141.9 557.9,138.2 560.7,136.4 563.4,137.9 566.2,136.1 568.9,131.9 571.7,131.0 574.4,132.0 577.1,130.4 579.9,133.0 582.6,134.1 585.3,134.5 588.1,134.2 590.8,138.2 593.6,141.5 596.3,138.9 599.1,140.2 601.8,134.7 604.6,138.1 607.3,134.1 610.0,135.6 612.8,135.1 615.5,140.2 617.9,138.1 620.2,140.8 622.6,143.0 625.0,142.3 627.3,140.6 629.7,142.8 632.0,138.0 635.0,140.7 638.0,142.0 641.0,141.9 644.0,138.0 647.0,138.8 650.0,142.0 653.0,141.2 656.0,140.0 659.0,139.3 662.0,144.0 665.0,144.6 668.0,148.0 671.0,147.1 674.0,152.0 677.0,152.9 680.0,150.0 683.0,151.2 686.0,148.0 689.0,149.4 692.0,152.0 695.0,153.9 698.0,156.0 701.0,161.5 704.0,162.0 707.0,165.1 710.0,168.0 713.0,170.2 716.0,172.0 718.7,174.1 721.4,170.0" stroke="#ff0000" stroke-dasharray="5.2,2"/>
<polyline points="397.0,158.5 399.5,164.0 402.0,162.0 404.5,156.3 407.0,157.0 409.5,158.2 412.0,163.0 414.5,163.2 417.0,158.0 419.5,164.5 422.0,165.0 424.5,163.0 427.0,160.0 429.5,163.7 432.0,166.0 434.5,166.1 437.0,161.0 439.5,162.6 442.0,157.0 444.5,157.4 447.0,152.0 449.5,157.4 452.0,158.0 455.0,154.1 458.0,150.0 461.0,146.6 464.0,146.0 467.0,145.2 470.0,142.0 473.0,144.0 476.0,140.0 479.0,140.1 482.0,136.0 485.0,136.6 488.0,132.0 491.0,132.3 494.0,128.0 497.0,126.4 500.0,126.0 503.0,129.2 506.0,130.0 509.0,129.5 512.0,128.0 515.0,131.2 518.0,132.0 520.3,128.7 522.7,127.1 525.0,127.9 527.3,127.8 529.7,132.5 532.0,131.0 535.0,131.5 538.0,135.0 541.0,132.9 544.0,133.0 547.0,138.7 550.0,137.0 553.0,135.3 556.0,135.0 559.0,137.7 562.0,138.0 565.0,137.5 568.0,135.0 571.0,131.5 574.0,133.0 577.0,132.0 580.0,130.0 583.0,132.6 586.0,134.0 589.0,136.6 592.0,137.0 595.0,135.6 598.0,135.0 601.0,134.5 604.0,132.0 607.0,131.5 610.0,136.0 613.0,140.7 616.0,140.0 620.0,144.5 623.0,139.8 626.0,140.0 629.0,138.6 632.0,136.0 635.0,139.8 638.0,140.0 641.0,139.4 644.0,138.0 647.0,143.6 650.0,142.0 653.0,141.1 656.0,146.0 659.2,158.9 662.0,146.0 665.0,146.6 668.0,144.0 671.0,145.7 674.0,148.0 677.0,146.4 680.0,146.0 683.0,148.0 686.0,150.0 689.0,152.1 692.0,148.0 695.0,147.9 698.0,154.0 701.0,156.5 704.0,160.0 707.0,162.8 710.0,166.0 713.0,166.0 716.0,170.0 718.7,173.6 721.4,172.0" stroke="#ff2a2a" stroke-dasharray="1.7,2.2"/>
<polyline points="397.0,160.0 400.0,159.4 403.0,164.0 406.0,159.9 409.0,158.0 412.0,159.8 415.0,166.0 418.0,163.6 421.0,160.0 424.0,164.4 427.0,166.0 430.0,162.7 433.0,159.0 436.0,160.8 439.0,162.0 441.8,159.9 444.6,153.4 447.6,149.4 452.0,158.0 455.0,155.6 458.0,150.0 461.0,146.8 464.0,144.0 467.0,140.5 470.0,140.0 473.0,130.4 476.0,126.0 478.4,126.0 480.9,132.2 485.0,113.6 489.2,109.5 493.3,117.7 495.6,115.8 498.0,120.0 500.8,121.5 503.6,124.0 506.8,125.6 510.0,127.0 513.0,125.7 516.0,125.0 518.2,127.0 520.5,126.5 522.8,127.2 525.0,123.8 527.7,126.1 530.5,123.6 533.2,121.7 535.5,119.9 537.7,125.4 540.0,126.0 543.0,127.9 546.0,124.0 549.0,123.8 552.0,128.0 555.0,128.6 558.0,126.0 561.0,129.2 564.0,130.0 567.0,125.6 570.0,127.0 573.0,123.1 576.0,124.0 578.2,122.0 580.4,119.8 582.6,119.7 585.3,123.1 588.0,124.0 591.0,122.6 594.0,128.0 597.0,130.1 600.0,131.0 603.0,131.6 606.0,134.0 609.0,136.1 612.0,132.0 615.0,134.3 618.0,136.0 621.0,138.8 624.0,138.0 627.0,139.0 630.0,136.0 633.0,138.6 636.0,140.0 639.0,137.0 642.0,138.0 645.0,136.9 648.0,142.0 651.0,141.8 654.0,140.0 657.0,143.3 660.0,146.0 663.0,144.9 666.0,148.0 669.0,149.2 672.0,150.0 675.0,149.7 678.0,148.0 681.0,147.4 684.0,152.0 687.0,151.9 690.0,150.0 693.0,150.4 696.0,156.0 699.0,154.8 702.0,160.0 705.0,166.0 708.0,166.0 711.0,166.6 714.0,170.0 716.5,168.5 718.9,173.9 721.4,173.0" stroke="#ff8a8a" stroke-dasharray="8.4,2.3,1.6,2.3"/>
</g>
<rect x="50.00" y="14.40" width="324.40" height="163.00" fill="none" stroke="#3a3a3a" stroke-width="1.1"/>
<path d="M87.00 177.40v2.6M133.36 177.40v2.6M179.73 177.40v2.6M226.10 177.40v2.6M272.46 177.40v2.6M318.82 177.40v2.6M365.19 177.40v2.6M50.00 177.40h-2.6M50.00 136.65h-2.6M50.00 95.90h-2.6M50.00 55.15h-2.6M50.00 14.40h-2.6" stroke="#3a3a3a" stroke-width="1.1"/>
<text x="44.8" y="182.40" text-anchor="end" font-size="14">0.0</text>
<text x="44.8" y="141.65" text-anchor="end" font-size="14">0.5</text>
<text x="44.8" y="100.90" text-anchor="end" font-size="14">1.0</text>
<text x="44.8" y="60.15" text-anchor="end" font-size="14">1.5</text>
<text x="44.8" y="19.40" text-anchor="end" font-size="14">2.0</text>
<rect x="397.00" y="14.40" width="324.40" height="163.00" fill="none" stroke="#3a3a3a" stroke-width="1.1"/>
<path d="M434.00 177.40v2.6M480.36 177.40v2.6M526.73 177.40v2.6M573.10 177.40v2.6M619.46 177.40v2.6M665.83 177.40v2.6M712.19 177.40v2.6M397.00 177.40h-2.6M397.00 136.65h-2.6M397.00 95.90h-2.6M397.00 55.15h-2.6M397.00 14.40h-2.6" stroke="#3a3a3a" stroke-width="1.1"/>
<rect x="50.00" y="195.40" width="324.40" height="163.00" fill="none" stroke="#3a3a3a" stroke-width="1.1"/>
<path d="M87.00 358.40v2.6M133.36 358.40v2.6M179.73 358.40v2.6M226.10 358.40v2.6M272.46 358.40v2.6M318.82 358.40v2.6M365.19 358.40v2.6M50.00 358.40h-2.6M50.00 311.83h-2.6M50.00 265.26h-2.6M50.00 218.69h-2.6" stroke="#3a3a3a" stroke-width="1.1"/>
<text x="44.8" y="363.40" text-anchor="end" font-size="14">0</text>
<text x="44.8" y="316.83" text-anchor="end" font-size="14">100</text>
<text x="44.8" y="270.26" text-anchor="end" font-size="14">200</text>
<text x="44.8" y="223.69" text-anchor="end" font-size="14">300</text>
<rect x="397.00" y="195.40" width="324.40" height="163.00" fill="none" stroke="#3a3a3a" stroke-width="1.1"/>
<path d="M434.00 358.40v2.6M480.36 358.40v2.6M526.73 358.40v2.6M573.10 358.40v2.6M619.46 358.40v2.6M665.83 358.40v2.6M712.19 358.40v2.6M397.00 358.40h-2.6M397.00 311.83h-2.6M397.00 265.26h-2.6M397.00 218.69h-2.6" stroke="#3a3a3a" stroke-width="1.1"/>
<rect x="50.00" y="376.40" width="324.40" height="163.00" fill="none" stroke="#3a3a3a" stroke-width="1.1"/>
<path d="M87.00 539.40v2.6M133.36 539.40v2.6M179.73 539.40v2.6M226.10 539.40v2.6M272.46 539.40v2.6M318.82 539.40v2.6M365.19 539.40v2.6M50.00 539.40h-2.6M50.00 506.80h-2.6M50.00 474.20h-2.6M50.00 441.60h-2.6M50.00 409.00h-2.6M50.00 376.40h-2.6" stroke="#3a3a3a" stroke-width="1.1"/>
<text x="44.8" y="544.40" text-anchor="end" font-size="14">0</text>
<text x="44.8" y="511.80" text-anchor="end" font-size="14">10</text>
<text x="44.8" y="479.20" text-anchor="end" font-size="14">20</text>
<text x="44.8" y="446.60" text-anchor="end" font-size="14">30</text>
<text x="44.8" y="414.00" text-anchor="end" font-size="14">40</text>
<text x="44.8" y="381.40" text-anchor="end" font-size="14">50</text>
<text x="87.00" y="554.7" text-anchor="middle" font-size="14">5.25</text>
<text x="133.36" y="554.7" text-anchor="middle" font-size="14">5.30</text>
<text x="179.73" y="554.7" text-anchor="middle" font-size="14">5.35</text>
<text x="226.10" y="554.7" text-anchor="middle" font-size="14">5.40</text>
<text x="272.46" y="554.7" text-anchor="middle" font-size="14">5.45</text>
<text x="318.82" y="554.7" text-anchor="middle" font-size="14">5.50</text>
<text x="365.19" y="554.7" text-anchor="middle" font-size="14">5.55</text>
<rect x="397.00" y="376.40" width="324.40" height="163.00" fill="none" stroke="#3a3a3a" stroke-width="1.1"/>
<path d="M434.00 539.40v2.6M480.36 539.40v2.6M526.73 539.40v2.6M573.10 539.40v2.6M619.46 539.40v2.6M665.83 539.40v2.6M712.19 539.40v2.6M397.00 539.40h-2.6M397.00 506.80h-2.6M397.00 474.20h-2.6M397.00 441.60h-2.6M397.00 409.00h-2.6M397.00 376.40h-2.6" stroke="#3a3a3a" stroke-width="1.1"/>
<text x="434.00" y="554.7" text-anchor="middle" font-size="14">5.25</text>
<text x="480.36" y="554.7" text-anchor="middle" font-size="14">5.30</text>
<text x="526.73" y="554.7" text-anchor="middle" font-size="14">5.35</text>
<text x="573.10" y="554.7" text-anchor="middle" font-size="14">5.40</text>
<text x="619.46" y="554.7" text-anchor="middle" font-size="14">5.45</text>
<text x="665.83" y="554.7" text-anchor="middle" font-size="14">5.50</text>
<text x="712.19" y="554.7" text-anchor="middle" font-size="14">5.55</text>
<text x="212.2" y="9.9" text-anchor="middle" font-size="14" font-weight="bold">Forward field</text>
<text x="559.2" y="9.9" text-anchor="middle" font-size="14" font-weight="bold">Reversed field</text>
<text x="374.4" y="12.2" text-anchor="end" font-size="11">20180829.026</text>
<text x="721.4" y="12.2" text-anchor="end" font-size="11">20181002.054</text>
<text x="52.9" y="28.6" font-size="14.6" font-weight="bold" letter-spacing="0.6">(a)</text>
<text x="52.9" y="209.6" font-size="14.6" font-weight="bold" letter-spacing="0.6">(b)</text>
<text x="52.9" y="390.6" font-size="14.6" font-weight="bold" letter-spacing="0.6">(c)</text>
<text x="399.9" y="28.6" font-size="14.6" font-weight="bold" letter-spacing="0.6">(d)</text>
<text x="399.9" y="209.6" font-size="14.6" font-weight="bold" letter-spacing="0.6">(e)</text>
<text x="399.9" y="390.6" font-size="14.6" font-weight="bold" letter-spacing="0.6">(f)</text>
<text x="212.4" y="569.8" text-anchor="middle" font-size="14">R (m)</text>
<text x="559.4" y="569.8" text-anchor="middle" font-size="14">R (m)</text>
<text transform="translate(18.8,96.2) rotate(-90)" text-anchor="middle" font-size="14">P (MW/m<tspan dy="-5" font-size="9.5">2</tspan><tspan dy="5">)</tspan></text>
<text transform="translate(15.0,276.9) rotate(-90)" text-anchor="middle" font-size="14"><tspan font-style="italic">j</tspan><tspan font-style="italic" font-size="9.5" dy="2.3">sat</tspan><tspan dy="-2.3"> (mA/mm</tspan><tspan dy="-5" font-size="9.5">2</tspan><tspan dy="5">)</tspan></text>
<text transform="translate(22.9,457.9) rotate(-90)" text-anchor="middle" font-size="14"><tspan font-style="italic">T</tspan><tspan font-style="italic" font-size="9.5" dy="2.3">e</tspan><tspan dy="-2.3"> (eV)</tspan></text>
<rect x="251.2" y="201.6" width="117.3" height="36.4" rx="2.5" fill="#fff" stroke="#d6d6d6" stroke-width="1"/>
<path d="M254.6 210.1H278.6" stroke="#0000d8" stroke-width="2.1"/>
<path d="M266.6 204.6V215.6" stroke="#0000d8" stroke-width="2"/>
<circle cx="266.6" cy="210.1" r="3.9" fill="#0000d8"/>
<text x="287.0" y="213.9" font-size="11.2">Upper,</text>
<text transform="translate(323.6,213.9) scale(1.15,1)" font-size="11.2" font-style="italic">ϕ</text>
<text x="333.75" y="213.9" font-size="11.2">= -63°</text>
<path d="M254.6 226.8H278.6" stroke="#d00000" stroke-width="2.1"/>
<path d="M266.6 221.3V232.3" stroke="#d00000" stroke-width="2"/>
<rect x="262.7" y="222.9" width="7.8" height="7.8" fill="#d00000"/>
<text x="287.0" y="230.6" font-size="11.2">Lower,</text>
<text transform="translate(323.6,230.6) scale(1.15,1)" font-size="11.2" font-style="italic">ϕ</text>
<text x="333.75" y="230.6" font-size="11.2">= -81°</text>
<rect x="251.2" y="382.6" width="117.3" height="36.4" rx="2.5" fill="#fff" stroke="#d6d6d6" stroke-width="1"/>
<path d="M254.6 391.1H278.6" stroke="#0000d8" stroke-width="2.1"/>
<path d="M266.6 385.6V396.6" stroke="#0000d8" stroke-width="2"/>
<circle cx="266.6" cy="391.1" r="3.9" fill="#0000d8"/>
<text x="287.0" y="394.9" font-size="11.2">Upper,</text>
<text transform="translate(323.6,394.9) scale(1.15,1)" font-size="11.2" font-style="italic">ϕ</text>
<text x="333.75" y="394.9" font-size="11.2">= -63°</text>
<path d="M254.6 407.8H278.6" stroke="#d00000" stroke-width="2.1"/>
<path d="M266.6 402.3V413.3" stroke="#d00000" stroke-width="2"/>
<rect x="262.7" y="403.9" width="7.8" height="7.8" fill="#d00000"/>
<text x="287.0" y="411.6" font-size="11.2">Lower,</text>
<text transform="translate(323.6,411.6) scale(1.15,1)" font-size="11.2" font-style="italic">ϕ</text>
<text x="333.75" y="411.6" font-size="11.2">= -81°</text>
<rect x="277.2" y="19.2" width="92.6" height="115.1" rx="2.5" fill="#fff" stroke="#d6d6d6" stroke-width="1"/>
<path d="M280.3 25.60H297.2" stroke="#000070" stroke-width="1.9"/>
<text x="304.3" y="28.40" font-size="8.5">Upper,</text>
<text transform="translate(331.3,28.40) scale(1.15,1)" font-size="8.5" font-style="italic">ϕ</text>
<text x="339.1" y="28.40" font-size="8.5">= -135°</text>
<path d="M280.3 38.15H297.2" stroke="#0000c0" stroke-width="1.9" stroke-dasharray="5.2,2"/>
<text x="304.3" y="40.95" font-size="8.5">Upper,</text>
<text transform="translate(331.3,40.95) scale(1.15,1)" font-size="8.5" font-style="italic">ϕ</text>
<text x="339.1" y="40.95" font-size="8.5">= -63°</text>
<path d="M280.3 50.70H297.2" stroke="#1010ff" stroke-width="1.9" stroke-dasharray="1.7,2.2"/>
<text x="304.3" y="53.50" font-size="8.5">Upper,</text>
<text transform="translate(331.3,53.50) scale(1.15,1)" font-size="8.5" font-style="italic">ϕ</text>
<text x="339.1" y="53.50" font-size="8.5">= 9°</text>
<path d="M280.3 63.25H297.2" stroke="#3a48ff" stroke-width="1.9" stroke-dasharray="8.4,2.3,1.6,2.3"/>
<text x="304.3" y="66.05" font-size="8.5">Upper,</text>
<text transform="translate(331.3,66.05) scale(1.15,1)" font-size="8.5" font-style="italic">ϕ</text>
<text x="339.1" y="66.05" font-size="8.5">= 81°</text>
<path d="M280.3 75.80H297.2" stroke="#3d8ff5" stroke-width="1.9"/>
<text x="304.3" y="78.60" font-size="8.5">Upper,</text>
<text transform="translate(331.3,78.60) scale(1.15,1)" font-size="8.5" font-style="italic">ϕ</text>
<text x="339.1" y="78.60" font-size="8.5">= 153°</text>
<path d="M280.3 88.35H297.2" stroke="#ac0000" stroke-width="1.9"/>
<text x="304.3" y="91.15" font-size="8.5">Lower,</text>
<text transform="translate(331.3,91.15) scale(1.15,1)" font-size="8.5" font-style="italic">ϕ</text>
<text x="339.1" y="91.15" font-size="8.5">= -153°</text>
<path d="M280.3 100.90H297.2" stroke="#ff0000" stroke-width="1.9" stroke-dasharray="5.2,2"/>
<text x="304.3" y="103.70" font-size="8.5">Lower,</text>
<text transform="translate(331.3,103.70) scale(1.15,1)" font-size="8.5" font-style="italic">ϕ</text>
<text x="339.1" y="103.70" font-size="8.5">= -9°</text>
<path d="M280.3 113.45H297.2" stroke="#ff2a2a" stroke-width="1.9" stroke-dasharray="1.7,2.2"/>
<text x="304.3" y="116.25" font-size="8.5">Lower,</text>
<text transform="translate(331.3,116.25) scale(1.15,1)" font-size="8.5" font-style="italic">ϕ</text>
<text x="339.1" y="116.25" font-size="8.5">= 63°</text>
<path d="M280.3 126.00H297.2" stroke="#ff8a8a" stroke-width="1.9" stroke-dasharray="8.4,2.3,1.6,2.3"/>
<text x="304.3" y="128.80" font-size="8.5">Lower,</text>
<text transform="translate(331.3,128.80) scale(1.15,1)" font-size="8.5" font-style="italic">ϕ</text>
<text x="339.1" y="128.80" font-size="8.5">= 135°</text>
</svg>
</body></html>
